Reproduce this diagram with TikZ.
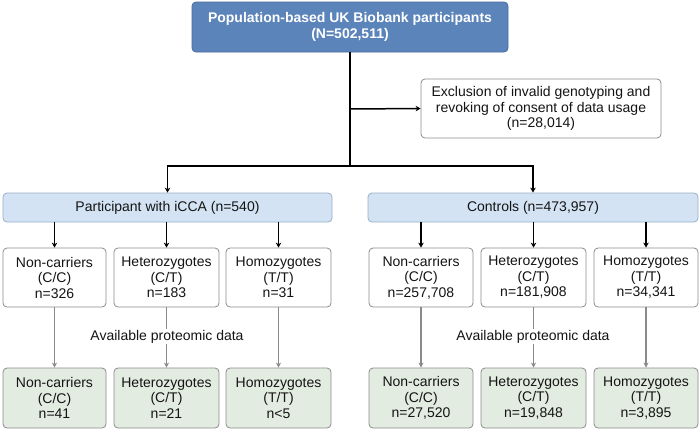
\documentclass[tikz,border=0pt]{standalone}
\usepackage{fontspec}
\setmainfont{Liberation Sans}
\usetikzlibrary{arrows.meta}
\definecolor{topblue}{HTML}{5B84BA}
\definecolor{topedge}{HTML}{4A6C9C}
\definecolor{lightblue}{HTML}{D3E3F4}
\definecolor{lbedge}{HTML}{9AAFC6}
\definecolor{lightgreen}{HTML}{E3ECE1}
\definecolor{boxedge}{HTML}{8C8C8C}
\definecolor{grayline}{HTML}{8A8A8A}
\definecolor{txt}{HTML}{141414}
\tikzset{
  base/.style={rounded corners=4pt, align=center, inner sep=0pt, text=txt,
    font=\fontsize{14}{15.5}\selectfont},
  topbox/.style={base, fill=topblue, draw=topedge, line width=0.8pt, text=white,
    font=\fontsize{14}{15.5}\selectfont\bfseries, minimum width=316pt, minimum height=50pt},
  exclbox/.style={base, draw=boxedge, line width=0.8pt, fill=white, minimum width=240pt, minimum height=59pt},
  groupbox/.style={base, fill=lightblue, draw=lbedge, line width=0.8pt, minimum height=29pt},
  genobox/.style={base, fill=white, draw=boxedge, line width=0.8pt, minimum height=59pt},
  protbox/.style={base, fill=lightgreen, draw=boxedge, line width=0.8pt, minimum height=60pt},
  blackarrow/.style={line width=1.5pt, draw=black, -{Stealth[length=5pt,width=5.5pt]}},
  blackline/.style={line width=1.5pt, draw=black},
  grayarrow/.style={line width=1.1pt, draw=grayline, -{Stealth[length=5pt,width=5pt]}},
  plabel/.style={fill=white, inner sep=1pt, text=txt, font=\fontsize{14}{15.5}\selectfont}
}
\begin{document}
\begin{tikzpicture}[x=1pt,y=-1pt]
\useasboundingbox[fill=white] (0,0) rectangle (700,431);

\node[topbox] (top) at (350,27) {Population-based UK Biobank participants\\(N=502,511)};
\node[exclbox] (excl) at (541,108.5) {Exclusion of invalid genotyping and\\revoking of consent of data usage\\(n=28,014)};

\node[groupbox, minimum width=329pt] (part) at (167.5,207.5) {Participant with iCCA (n=540)};
\node[groupbox, minimum width=330pt] (ctrl) at (533,207.5) {Controls (n=473,957)};

\node[genobox, minimum width=103pt] (g1) at (54.5,277.5) {Non-carriers\\(C/C)\\n=326};
\node[genobox, minimum width=105pt] (g2) at (166.5,277.5) {Heterozygotes\\(C/T)\\n=183};
\node[genobox, minimum width=105pt] (g3) at (278.5,277.5) {Homozygotes\\(T/T)\\n=31};
\node[genobox, minimum width=104pt] (g4) at (421,277.5) {Non-carriers\\(C/C)\\n=257,708};
\node[genobox, minimum width=105pt] (g5) at (533.5,277.5) {Heterozygotes\\(C/T)\\n=181,908};
\node[genobox, minimum width=104pt] (g6) at (646,277.5) {Homozygotes\\(T/T)\\n=34,341};

\node[protbox, minimum width=103pt] (p1) at (54.5,398) {Non-carriers\\(C/C)\\n=41};
\node[protbox, minimum width=105pt] (p2) at (166.5,398) {Heterozygotes\\(C/T)\\n=21};
\node[protbox, minimum width=105pt] (p3) at (278.5,398) {Homozygotes\\(T/T)\\n<5};
\node[protbox, minimum width=104pt] (p4) at (421,398) {Non-carriers\\(C/C)\\n=27,520};
\node[protbox, minimum width=105pt] (p5) at (533.5,398) {Heterozygotes\\(C/T)\\n=19,848};
\node[protbox, minimum width=104pt] (p6) at (646,398) {Homozygotes\\(T/T)\\n=3,895};

\coordinate (branch) at (350,109);
\coordinate (junc) at (350,166);

\draw[blackline] (top.south) -- (junc);
\draw[blackarrow] (branch) -- (excl.west);
\draw[blackarrow] (junc) -| (part.north);
\draw[blackarrow] (junc) -| (ctrl.north);

\foreach \g in {1,2,3}{
  \draw[blackarrow] (part.south -| g\g.north) -- (g\g.north);
}
\foreach \g in {4,5,6}{
  \draw[blackarrow] (ctrl.south -| g\g.north) -- (g\g.north);
}
\foreach \g in {1,...,6}{
  \draw[grayarrow] (g\g.south) -- (p\g.north);
}

\node[plabel] (avl) at (167,336.5) {Available proteomic data};
\node[plabel] (avr) at (533,336.5) {Available proteomic data};
\end{tikzpicture}
\end{document}
